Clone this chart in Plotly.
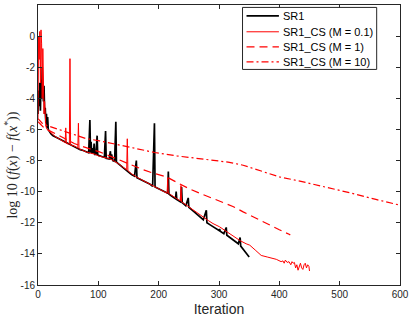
import plotly.graph_objects as go

# ---- data ----
sr1_it = [0,1,2,3,4,5,6,7,8,9,10,11,12,13,14,15,16,17,18,20,22,25,30,35,40,45,50,55,60,65,70,75,80,
          84,86,87,88,89,91,92,93,94,96,98,99,104,110,112,113,118,120,121,122,124,127,129,130,133,136,140,145,150,155,
          160,163,164,170,175,180,185,190,193,194,200,205,210,215,216,217,222,228,229,230,236,238,239,
          245,249,250,256,262,268,274,279,280,286,292,300,301,302,308,312,313,320,326,332,335,336,342,346,350]
sr1_v = [-5.0,-3.5,-4.5,-3.0,-4.8,-2.8,-4.0,-2.0,-3.5,-4.2,-3.2,-5.0,-4.6,-5.6,-5.0,-5.9,-5.2,-6.0,-6.1,-6.2,-6.3,-6.4,-6.5,-6.6,-6.75,-6.85,-6.9,-7.0,-7.1,-7.2,-7.3,-7.35,-7.45,
         -7.5,-5.4,-7.5,-6.8,-7.55,-7.2,-7.55,-6.9,-7.6,-7.6,-6.4,-7.65,-7.7,-7.8,-6.1,-7.85,-7.9,-7.4,-7.95,-7.6,-8.0,-8.05,-5.5,-8.1,-8.2,-8.3,-8.45,-8.6,-8.75,-8.9,
         -9.0,-8.0,-9.1,-9.2,-9.3,-9.4,-9.5,-9.65,-5.6,-9.7,-9.8,-9.9,-10.0,-10.1,-8.7,-10.15,-10.3,-10.45,-10.0,-10.5,-10.65,-9.7,-10.7,
         -10.9,-10.4,-11.0,-11.2,-11.4,-11.65,-11.8,-11.2,-12.0,-12.15,-12.3,-12.5,-12.4,-12.55,-12.7,-12.3,-12.8,-13.0,-13.2,-13.35,-12.95,-13.5,-13.8,-14.0,-14.2]

cs01_it = [0,1,2,3,4,5,6,7,8,9,10,11,12,13,15,18,20,25,30,35,40,45,46,47,52,53,54,58,59,60,62,66,67,68,72,76,80,85,90,95,
           100,105,110,115,120,125,130,135,140,145,147,148,149,155,160,165,170,175,180,185,190,195,200,205,210,214,215,216,
           220,225,230,236,237,238,245,250,256,262,268,275,282,290,301,310,323,335,345,351,360,370,380,387,395,403,406,408,
           410,413,416,419,421,423,425,427,429,431,433,435,437,439,441,443,445,447,449,450]
cs01_v = [-5.3,0.0,-1.5,0.3,-3.0,0.4,-0.5,-4.0,-0.8,-2.5,-5.0,-4.2,-5.5,-5.8,-6.0,-6.1,-6.2,-6.35,-6.5,-6.6,-6.75,-6.85,-5.9,-6.9,-6.95,-1.45,-7.0,-7.05,-7.0,-7.1,-7.1,-7.2,-5.6,-7.25,-7.3,-7.4,-7.45,-7.5,-7.55,-7.6,
          -7.7,-7.75,-7.8,-7.85,-7.9,-8.0,-8.1,-8.25,-8.4,-8.55,-8.6,-6.6,-8.65,-8.85,-9.0,-9.1,-9.2,-9.3,-9.4,-9.5,-9.6,-9.7,-9.8,-9.9,-10.0,-10.1,-9.1,-10.1,
          -10.2,-10.35,-10.45,-10.6,-9.6,-10.65,-10.85,-10.95,-11.15,-11.3,-11.5,-11.7,-11.85,-12.05,-12.26,-12.5,-12.86,-13.15,-13.35,-13.44,-13.75,-14.1,-14.2,-14.25,-14.35,-14.5,-14.45,-14.6,
          -14.4,-14.55,-14.5,-14.7,-14.5,-14.6,-14.55,-14.9,-14.7,-15.05,-14.8,-14.6,-14.9,-15.0,-14.7,-14.6,-14.9,-14.7,-14.8,-15.1]

cs1_it = [0,2,5,10,15,20,30,40,50,60,70,80,90,102,115,130,145,160,175,190,213,230,250,268,290,315,323,340,360,380,400,417,418]
cs1_v = [-5.5,-5.6,-5.7,-5.9,-6.0,-6.1,-6.3,-6.55,-6.75,-6.9,-7.05,-7.2,-7.3,-7.44,-7.65,-7.9,-8.15,-8.4,-8.6,-8.8,-9.05,-9.4,-9.8,-10.1,-10.45,-10.8,-10.95,-11.3,-11.7,-12.1,-12.45,-12.75,-12.8]

cs10_it = [0,7,15,29,50,79,102,134,160,193,230,268,300,315,340,360,379,400,434,460,481,520,560,600]
cs10_v = [-5.3,-5.6,-5.75,-5.94,-6.2,-6.58,-6.73,-7.0,-7.2,-7.48,-7.7,-7.87,-8.0,-8.1,-8.3,-8.55,-8.83,-9.05,-9.32,-9.55,-9.78,-10.1,-10.5,-10.87]

y_ticks = [2, 0, -2, -4, -6, -8, -10, -12, -14, -16]
y_tick_text = ["2", "0", "-2", "-4", "-6", "-8", "-10", "-12", "-14", "-16"]
x_ticks = [0, 100, 200, 300, 400, 500, 600]

series_names = ["SR1", "SR1_CS (M = 0.1)", "SR1_CS (M = 1)", "SR1_CS (M = 10)"]
series_colors = ["#000000", "#ff0000", "#ff0000", "#ff0000"]
series_widths = [1.7, 1.0, 1.2, 1.2]
series_dashes = ["solid", "solid", "8px,5px", "7px,3px,2px,3px"]

# ---- figure ----
fig = go.Figure()
for xs, ys, nm, c, w, d in zip([sr1_it, cs01_it, cs1_it, cs10_it], [sr1_v, cs01_v, cs1_v, cs10_v],
                               series_names, series_colors, series_widths, series_dashes):
    fig.add_trace(go.Scatter(x=xs, y=ys, mode="lines", name=nm, showlegend=False,
                             line=dict(color=c, width=w, dash=d)))

# custom legend (MATLAB-style compact box) in paper coordinates
leg_left, leg_right, leg_top, leg_bottom = 0.565, 0.9356, 0.9914, 0.7699
leg_rows = [0.9614, 0.9043, 0.8507, 0.7971]
shapes = [dict(type="rect", xref="paper", yref="paper", x0=leg_left, x1=leg_right, y0=leg_bottom, y1=leg_top,
               line=dict(color="#262626", width=1), fillcolor="white", layer="above")]
annotations = []
for yr, nm, c, w, d in zip(leg_rows, series_names, series_colors, series_widths, series_dashes):
    shapes.append(dict(type="line", xref="paper", yref="paper", x0=0.576, x1=0.6655, y0=yr, y1=yr,
                       line=dict(color=c, width=w, dash=d), layer="above"))
    annotations.append(dict(xref="paper", yref="paper", x=0.6724, y=yr, xanchor="left", yanchor="middle",
                            text=nm, showarrow=False,
                            font=dict(family="Liberation Sans, Arial", size=11, color="black")))

# y-axis title (LaTeX-like, serif)
annotations.append(dict(xref="paper", yref="paper", x=-0.072, y=0.43, xanchor="center", yanchor="middle",
                        textangle=-90, showarrow=False,
                        text="log 10 (<i>f</i>(<i>x</i>) − <i>f</i>(<i>x</i><sup>*</sup>))",
                        font=dict(family="Liberation Serif, DejaVu Serif", size=14, color="#262626")))

axis_common = dict(showline=True, linecolor="#262626", linewidth=1, mirror="allticks",
                   ticks="inside", ticklen=4, tickcolor="#262626", showgrid=False, zeroline=False,
                   automargin=False,
                   tickfont=dict(family="Liberation Sans, Arial", size=10, color="#262626"))

fig.update_layout(
    width=409, height=324,
    margin=dict(l=38, r=9, t=5, b=39),
    paper_bgcolor="white", plot_bgcolor="white",
    showlegend=False,
    shapes=shapes, annotations=annotations,
    xaxis=dict(range=[0, 600], tickvals=x_ticks,
               title=dict(text="Iteration", standoff=5,
                          font=dict(family="Liberation Sans, Arial", size=14, color="#262626")),
               **axis_common),
    yaxis=dict(range=[-16, 2], tickvals=y_ticks, ticktext=y_tick_text, **axis_common),
)

fig.write_html("out.html", config={"displayModeBar": False},
               post_script="document.body.style.margin='0';")
